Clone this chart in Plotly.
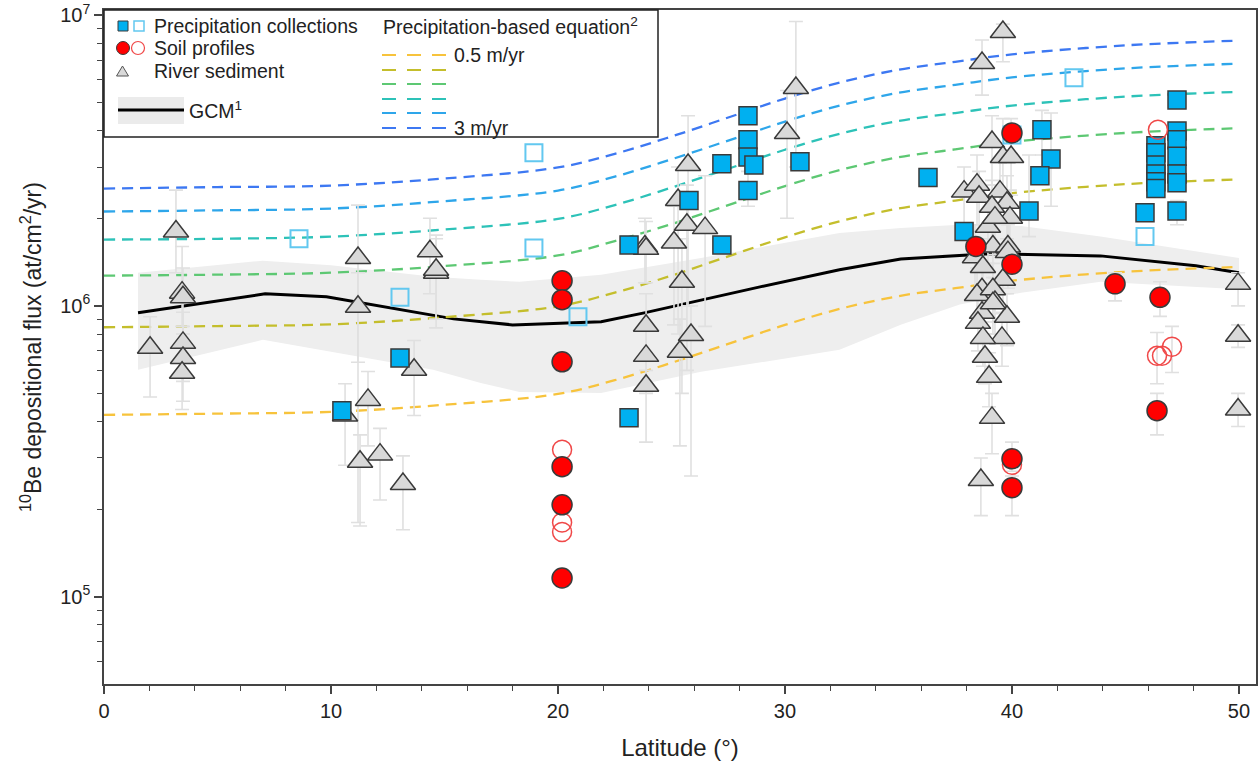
import plotly.graph_objects as go

# ---------------- DATA ----------------
# Precipitation-based equation curves (flux, at/cm2/yr) for 0.5 ... 3 m/yr
eq_lat = [0, 5, 10, 15, 20, 22.5, 25, 27.5, 30, 32.5, 35, 37.5, 40, 45, 50]
eq_p05 = [4.22e5, 4.26e5, 4.32e5, 4.57e5, 4.98e5, 5.55e5, 6.37e5, 7.4e5, 8.6e5, 9.8e5, 1.08e6, 1.15e6, 1.22e6, 1.31e6, 1.36e6]
eq_p10 = [8.44e5, 8.52e5, 8.64e5, 9.14e5, 9.96e5, 1.11e6, 1.27e6, 1.48e6, 1.72e6, 1.96e6, 2.16e6, 2.30e6, 2.44e6, 2.62e6, 2.72e6]
eq_p15 = [1.27e6, 1.28e6, 1.30e6, 1.37e6, 1.49e6, 1.67e6, 1.91e6, 2.22e6, 2.58e6, 2.94e6, 3.24e6, 3.45e6, 3.66e6, 3.93e6, 4.08e6]
eq_p20 = [1.69e6, 1.70e6, 1.73e6, 1.83e6, 1.99e6, 2.22e6, 2.55e6, 2.96e6, 3.44e6, 3.92e6, 4.32e6, 4.60e6, 4.88e6, 5.24e6, 5.44e6]
eq_p25 = [2.11e6, 2.13e6, 2.16e6, 2.29e6, 2.49e6, 2.78e6, 3.19e6, 3.70e6, 4.30e6, 4.90e6, 5.40e6, 5.75e6, 6.10e6, 6.55e6, 6.80e6]
eq_p30 = [2.53e6, 2.56e6, 2.59e6, 2.74e6, 2.99e6, 3.33e6, 3.82e6, 4.44e6, 5.16e6, 5.88e6, 6.48e6, 6.90e6, 7.32e6, 7.86e6, 8.16e6]
eq_colors = ["#F7C33C", "#C4BE2C", "#5DC873", "#2DC2B8", "#2EA6EA", "#3D78F2"]

# GCM model line and its shaded range
gcm_lat = [1.5, 7.1, 9.8, 15.4, 18.0, 20.8, 21.9, 23.8, 26.3, 28.9, 32.4, 35.1, 39.0, 41.7, 43.9, 48.1, 50.0]
gcm_val = [9.46e5, 1.10e6, 1.074e6, 9.02e5, 8.60e5, 8.74e5, 8.81e5, 9.46e5, 1.049e6, 1.162e6, 1.33e6, 1.45e6, 1.51e6, 1.50e6, 1.485e6, 1.373e6, 1.30e6]
band_lat = [1.5, 7.0, 10.0, 14.5, 16.6, 18.3, 21.9, 26.3, 32.4, 35.1, 37.7, 40.4, 43.9, 50.0]
band_hi = [1.30e6, 1.43e6, 1.38e6, 1.26e6, 1.23e6, 1.21e6, 1.28e6, 1.46e6, 1.78e6, 1.85e6, 1.90e6, 1.88e6, 1.73e6, 1.46e6]
band_lo = [6.03e5, 7.64e5, 6.95e5, 6.03e5, 5.43e5, 5.06e5, 5.02e5, 5.93e5, 7.06e5, 8.61e5, 1.01e6, 1.11e6, 1.21e6, 1.14e6]

# Precipitation collections (filled squares)
pc_lat = [10.48, 13.04, 23.13, 23.13, 25.77, 27.22, 27.22, 28.37, 28.37, 28.37, 28.63, 28.37, 30.66,
          36.30, 37.89, 41.32, 41.72, 41.23, 40.75, 47.27,
          46.34, 46.34, 46.34, 46.34, 46.34, 46.34,
          47.27, 47.27, 47.27, 47.27, 47.27, 45.86, 47.27]
pc_val = [4.36e5, 6.62e5, 1.62e6, 4.12e5, 2.30e6, 3.08e6, 1.62e6, 4.50e6, 3.72e6, 3.25e6, 3.05e6, 2.49e6, 3.13e6,
          2.76e6, 1.80e6, 4.03e6, 3.20e6, 2.80e6, 2.12e6, 5.10e6,
          3.55e6, 3.36e6, 3.05e6, 2.84e6, 2.67e6, 2.53e6,
          3.99e6, 3.72e6, 3.27e6, 2.84e6, 2.65e6, 2.09e6, 2.12e6]
# error bars for some precipitation collections
pce_lat = [41.32, 41.72, 40.75, 47.27, 28.37]
pce_val = [4.03e6, 3.20e6, 2.12e6, 2.12e6, 2.49e6]
pce_hi = [4.7e6, 4.6e6, 3.3e6, 2.3e6, 2.9e6]
pce_lo = [3.3e6, 2.2e6, 1.73e6, 1.9e6, 2.2e6]
# Precipitation collections (open squares)
po_lat = [8.59, 13.04, 18.94, 18.94, 20.88, 42.73, 45.86, 40.0]
po_val = [1.70e6, 1.07e6, 3.36e6, 1.58e6, 9.17e5, 6.08e6, 1.73e6, 3.87e6]

# Soil profiles (filled circles)
sf_lat = [20.18, 20.18, 20.18, 20.18, 20.18, 20.18, 38.41, 40.0, 40.0, 40.0, 40.0, 44.54, 46.52, 46.39]
sf_val = [1.22e6, 1.05e6, 6.42e5, 2.80e5, 2.07e5, 1.16e5, 1.60e6, 3.93e6, 1.39e6, 2.98e5, 2.37e5, 1.19e6, 1.07e6, 4.36e5]
sfe_lat = [40.0, 40.0, 44.54, 46.52, 46.39]
sfe_val = [2.98e5, 2.37e5, 1.19e6, 1.07e6, 4.36e5]
sfe_hi = [3.4e5, 2.6e5, 1.3e6, 1.21e6, 5.0e5]
sfe_lo = [2.7e5, 1.9e5, 1.04e6, 9.2e5, 3.6e5]
# Soil profiles (open circles)
so_lat = [20.18, 20.18, 20.18, 40.0, 46.39, 46.61, 47.05, 46.43]
so_val = [3.20e5, 1.80e5, 1.67e5, 2.84e5, 6.73e5, 6.73e5, 7.23e5, 4.03e6]
soe_lat = [46.39, 47.05]
soe_val = [6.73e5, 7.23e5]
soe_hi = [8.1e5, 8.5e5]
soe_lo = [5.4e5, 5.9e5]

# River sediment (triangles) with error bounds
tri_lat = [2.03, 3.17, 3.44, 3.48, 3.48, 3.48, 3.44, 11.19, 11.19, 11.63, 10.62, 11.28, 12.16, 13.17, 13.66, 14.36, 14.63, 14.63,
           23.83, 23.88, 25.73, 25.29, 25.68, 26.48, 25.11, 25.46, 23.88, 23.88, 23.88, 25.86, 25.37, 30.09, 30.48,
           39.60, 38.68, 39.12, 39.60, 39.96, 37.89, 38.46, 38.55, 39.47, 39.78, 39.12, 39.91, 38.94, 39.25, 39.16, 39.82,
           38.37, 38.72, 39.82, 39.60, 38.68, 38.46, 39.16, 39.25, 38.68, 39.78, 38.50, 39.16, 39.56, 38.72, 38.81, 38.99,
           39.12, 38.63, 49.96, 49.96, 49.96]
tri_val = [7.18e5, 1.80e6, 1.11e6, 1.07e6, 7.46e5, 6.62e5, 5.89e5, 1.46e6, 9.93e5, 4.75e5, 4.20e5, 2.91e5, 3.08e5, 2.44e5, 6.03e5, 1.54e6, 1.30e6, 1.33e6,
           1.60e6, 1.57e6, 3.05e6, 2.31e6, 1.90e6, 1.85e6, 1.65e6, 1.21e6, 8.54e5, 6.73e5, 5.31e5, 7.94e5, 6.95e5, 3.93e6, 5.61e6,
           8.74e6, 6.84e6, 3.66e6, 3.25e6, 3.25e6, 2.47e6, 2.61e6, 2.37e6, 2.47e6, 2.26e6, 2.19e6, 2.01e6, 1.87e6, 2.01e6, 1.60e6, 1.60e6,
           1.47e6, 1.36e6, 1.53e6, 1.23e6, 1.14e6, 1.09e6, 1.14e6, 1.03e6, 9.46e5, 9.17e5, 8.74e5, 1.02e6, 7.76e5, 7.76e5, 6.68e5, 5.70e5,
           4.12e5, 2.52e5, 1.19e6, 7.89e5, 4.40e5]
tri_hi = [9.17e5, 2.50e6, 1.60e6, 1.35e6, 9.5e5, 8.5e5, 7.5e5, 2.22e6, 1.30e6, 5.95e5, 5.4e5, 3.6e5, 3.79e5, 3.05e5, 7.6e5, 2.0e6, 1.7e6, 1.75e6,
          2.0e6, 1.95e6, 4.5e6, 3.0e6, 2.6e6, 2.8e6, 2.2e6, 1.7e6, 1.1e6, 8.5e5, 6.7e5, 1.0e6, 9.0e5, 5.5e6, 9.5e6,
          9.3e6, 8.2e6, 4.5e6, 4.4e6, 4.4e6, 3.0e6, 3.3e6, 2.9e6, 3.1e6, 2.8e6, 2.7e6, 2.5e6, 2.4e6, 2.6e6, 2.0e6, 2.0e6,
          1.9e6, 1.7e6, 1.9e6, 1.5e6, 1.4e6, 1.35e6, 1.4e6, 1.25e6, 1.15e6, 1.1e6, 1.05e6, 1.25e6, 9.4e5, 9.4e5, 8.0e5, 6.9e5,
          5.0e5, 3.0e5, 1.3e6, 8.6e5, 5.0e5]
tri_lo = [4.86e5, 1.30e6, 8.5e5, 8.0e5, 5.5e5, 4.7e5, 4.4e5, 6.4e5, 1.8e5, 3.3e5, 2.83e5, 1.75e5, 2.15e5, 1.7e5, 4.2e5, 1.1e6, 8.4e5, 9.0e5,
          1.2e6, 1.2e6, 1.0e6, 8.0e5, 6.0e5, 8.5e5, 8.6e5, 5.0e5, 6.0e5, 5.0e5, 3.4e5, 2.6e5, 3.3e5, 2.0e6, 3.0e6,
          6.9e6, 5.3e6, 2.6e6, 2.4e6, 2.4e6, 1.8e6, 1.9e6, 1.8e6, 1.9e6, 1.7e6, 1.6e6, 1.5e6, 1.4e6, 1.5e6, 1.2e6, 1.2e6,
          1.1e6, 1.0e6, 1.15e6, 9.5e5, 8.8e5, 8.5e5, 8.8e5, 8.0e5, 7.5e5, 7.3e5, 7.0e5, 8.0e5, 6.2e5, 6.2e5, 5.4e5, 4.5e5,
          3.1e5, 1.9e5, 1.0e6, 7.2e5, 3.85e5]

# axis ticks
x_ticks = [0, 10, 20, 30, 40, 50]
y_ticks = [1e5, 1e6, 1e7]
y_ticktext = ["10<sup>5</sup>", "10<sup>6</sup>", "10<sup>7</sup>"]
y_minor = [m * 10 ** e for e in (4, 5, 6) for m in range(2, 10) if 5e4 <= m * 10 ** e <= 1e7]

FONT = "Liberation Sans, Arial, sans-serif"
ERRC = "#E0E0E0"
EDGE = "#3A3A3A"

fig = go.Figure()

# shaded GCM range
fig.add_trace(go.Scatter(x=band_lat + band_lat[::-1], y=band_hi + band_lo[::-1], fill="toself",
                         fillcolor="#EEEEEE", line=dict(width=0), mode="lines", hoverinfo="skip"))
# GCM line
fig.add_trace(go.Scatter(x=gcm_lat, y=gcm_val, mode="lines", line=dict(color="black", width=3)))

# equation curves
for vals, col in zip([eq_p05, eq_p10, eq_p15, eq_p20, eq_p25, eq_p30], eq_colors):
    fig.add_trace(go.Scatter(x=eq_lat, y=vals, mode="lines", line=dict(color=col, width=2.3, dash="11px,7px", shape="spline")))


def err_trace(lat, val, hi, lo):
    return go.Scatter(x=lat, y=val, mode="markers", marker=dict(size=1, color="rgba(0,0,0,0)"),
                      error_y=dict(type="data", symmetric=False,
                                   array=[h - v for h, v in zip(hi, val)],
                                   arrayminus=[v - l for v, l in zip(val, lo)],
                                   color=ERRC, thickness=1.6, width=7))


fig.add_trace(err_trace(tri_lat, tri_val, tri_hi, tri_lo))
fig.add_trace(err_trace(pce_lat, pce_val, pce_hi, pce_lo))
fig.add_trace(err_trace(sfe_lat, sfe_val, sfe_hi, sfe_lo))
fig.add_trace(err_trace(soe_lat, soe_val, soe_hi, soe_lo))

# river sediment triangles
fig.add_trace(go.Scatter(x=tri_lat, y=tri_val, mode="markers",
                         marker=dict(symbol="triangle-up", size=22, color="#D9D9D9", line=dict(color=EDGE, width=1.5))))
# open squares
fig.add_trace(go.Scatter(x=po_lat, y=po_val, mode="markers",
                         marker=dict(symbol="square-open", size=17, color="#62C8F0", line=dict(width=2))))
# filled squares
fig.add_trace(go.Scatter(x=pc_lat, y=pc_val, mode="markers",
                         marker=dict(symbol="square", size=18, color="#00B0F0", line=dict(color=EDGE, width=1.5))))
# open circles
fig.add_trace(go.Scatter(x=so_lat, y=so_val, mode="markers",
                         marker=dict(symbol="circle-open", size=19, color="#F04848", line=dict(width=1.5))))
# filled circles
fig.add_trace(go.Scatter(x=sf_lat, y=sf_val, mode="markers",
                         marker=dict(symbol="circle", size=20, color="#FF0000", line=dict(color=EDGE, width=1.5))))

# ---------------- custom legend (layout positions) ----------------
L, R, T, B = 104, 1256, 10, 684


def px(x):
    return (x - L) / (R - L)


def py(y):
    return (B - y) / (B - T)


shapes = []
ann = []
shapes.append(dict(type="rect", xref="paper", yref="paper", x0=px(104), x1=px(658), y0=py(10), y1=py(137),
                   fillcolor="white", line=dict(color="#222", width=1.5), layer="above"))
# markers
shapes.append(dict(type="rect", xref="paper", yref="paper", x0=px(118), x1=px(128), y0=py(31), y1=py(21),
                   fillcolor="#00B0F0", line=dict(color=EDGE, width=1)))
shapes.append(dict(type="rect", xref="paper", yref="paper", x0=px(134), x1=px(144), y0=py(31), y1=py(21),
                   fillcolor="rgba(0,0,0,0)", line=dict(color="#62C8F0", width=1.5)))
shapes.append(dict(type="circle", xref="paper", yref="paper", x0=px(116.5), x1=px(129.5), y0=py(54.5), y1=py(41.5),
                   fillcolor="#FF0000", line=dict(color=EDGE, width=1)))
shapes.append(dict(type="circle", xref="paper", yref="paper", x0=px(131.5), x1=px(144.5), y0=py(54.5), y1=py(41.5),
                   fillcolor="rgba(0,0,0,0)", line=dict(color="#F04848", width=1.2)))
shapes.append(dict(type="path", xref="paper", yref="paper",
                   path=f"M{px(116.5)},{py(76)} L{px(128.5)},{py(76)} L{px(122.5)},{py(66)} Z",
                   fillcolor="#D9D9D9", line=dict(color="#555", width=1)))
shapes.append(dict(type="rect", xref="paper", yref="paper", x0=px(118), x1=px(184), y0=py(124), y1=py(97),
                   fillcolor="#EBEBEB", line=dict(width=0)))
shapes.append(dict(type="line", xref="paper", yref="paper", x0=px(118), x1=px(184), y0=py(110), y1=py(110),
                   line=dict(color="black", width=3)))
for i, (yy, col) in enumerate(zip([55, 70, 84, 99, 113, 128], eq_colors)):
    shapes.append(dict(type="line", xref="paper", yref="paper", x0=px(382), x1=px(446), y0=py(yy), y1=py(yy),
                       line=dict(color=col, width=2, dash="14px,11px")))

legend_texts = [
    ("Precipitation collections", 152, 26),
    ("Soil profiles", 152, 48),
    ("River sediment", 152, 71),
    ("GCM<sup>1</sup>", 187, 110),
    ("Precipitation-based equation<sup>2</sup>", 381, 26),
    ("0.5 m/yr", 452, 55),
    ("3 m/yr", 452, 128),
]
for t, x, y in legend_texts:
    ann.append(dict(text=t, xref="paper", yref="paper", x=px(x), y=py(y), xanchor="left", yanchor="middle",
                    showarrow=False, font=dict(family=FONT, size=19.5, color="#222")))

fig.update_layout(
    width=1260, height=768,
    margin=dict(l=L, r=1260 - R, t=T, b=768 - B, autoexpand=False),
    paper_bgcolor="white", plot_bgcolor="white",
    showlegend=False,
    font=dict(family=FONT, color="#222"),
    shapes=shapes, annotations=ann,
    xaxis=dict(range=[0, 50.75], tickvals=x_ticks, ticks="outside", ticklen=8, tickwidth=1.5, tickcolor="#444",
               showline=True, linecolor="#444", linewidth=1.5, mirror=True, showgrid=False, zeroline=False,
               automargin=False,
               tickfont=dict(size=20, family=FONT, color="#222"),
               minor=dict(dtick=2, ticks="outside", ticklen=5, tickwidth=1.2, tickcolor="#444", showgrid=False),
               title=dict(text="Latitude (°)", font=dict(size=24, family=FONT, color="#222"), standoff=18)),
    yaxis=dict(type="log", range=[4.70, 7.017], tickvals=y_ticks, ticktext=y_ticktext, ticks="outside",
               ticklen=8, tickwidth=1.5, tickcolor="#444",
               showline=True, linecolor="#444", linewidth=1.5, mirror=True, showgrid=False, zeroline=False,
               automargin=False,
               tickfont=dict(size=20, family=FONT, color="#222"),
               minor=dict(tickvals=y_minor, ticks="outside", ticklen=5, tickwidth=1.2, tickcolor="#444", showgrid=False),
               title=dict(text="<sup>10</sup>Be depositional flux (at/cm<sup>2</sup>/yr)",
                          font=dict(size=23, family=FONT, color="#222"), standoff=12)),
)

fig.write_html("out.html", config={"displayModeBar": False},
               post_script="document.body.style.margin='0';document.body.style.overflow='hidden';")
